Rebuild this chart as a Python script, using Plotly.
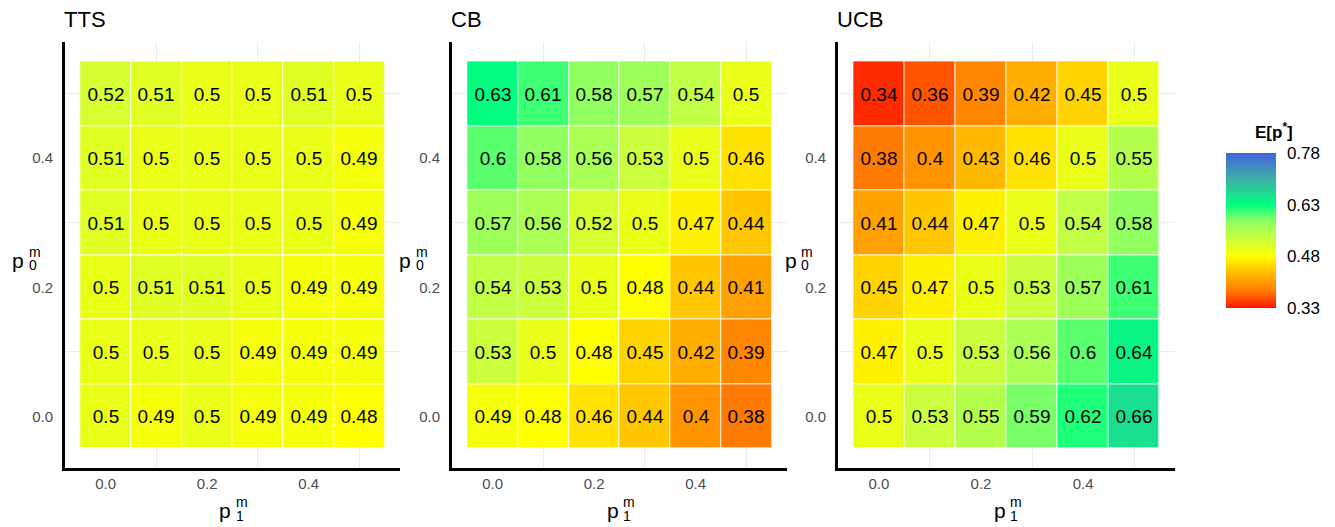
import plotly.graph_objects as go

# The page body has an 8px margin, so the figure is drawn 8px right/down.
OFF = 8
W, H = 1335 - OFF, 527 - OFF

p1_vals = [0.0, 0.1, 0.2, 0.3, 0.4, 0.5]
# rows listed from top (p0 = 0.5) to bottom (p0 = 0.0)
p0_vals = [0.5, 0.4, 0.3, 0.2, 0.1, 0.0]

tts = [
    [0.52, 0.51, 0.50, 0.50, 0.51, 0.50],
    [0.51, 0.50, 0.50, 0.50, 0.50, 0.49],
    [0.51, 0.50, 0.50, 0.50, 0.50, 0.49],
    [0.50, 0.51, 0.51, 0.50, 0.49, 0.49],
    [0.50, 0.50, 0.50, 0.49, 0.49, 0.49],
    [0.50, 0.49, 0.50, 0.49, 0.49, 0.48],
]
cb = [
    [0.63, 0.61, 0.58, 0.57, 0.54, 0.50],
    [0.60, 0.58, 0.56, 0.53, 0.50, 0.46],
    [0.57, 0.56, 0.52, 0.50, 0.47, 0.44],
    [0.54, 0.53, 0.50, 0.48, 0.44, 0.41],
    [0.53, 0.50, 0.48, 0.45, 0.42, 0.39],
    [0.49, 0.48, 0.46, 0.44, 0.40, 0.38],
]
ucb = [
    [0.34, 0.36, 0.39, 0.42, 0.45, 0.50],
    [0.38, 0.40, 0.43, 0.46, 0.50, 0.55],
    [0.41, 0.44, 0.47, 0.50, 0.54, 0.58],
    [0.45, 0.47, 0.50, 0.53, 0.57, 0.61],
    [0.47, 0.50, 0.53, 0.56, 0.60, 0.64],
    [0.50, 0.53, 0.55, 0.59, 0.62, 0.66],
]
panel_titles = ["TTS", "CB", "UCB"]
panels = [tts, cb, ucb]

z_min, z_max = 0.33, 0.78
cbar_ticks = [0.33, 0.48, 0.63, 0.78]
axis_ticks = [0.0, 0.2, 0.4]

colorscale = [
    [0.0, "#FF1500"],
    [0.1, "#FF7400"],
    [0.2, "#FFAE00"],
    [0.27, "#FFD500"],
    [1/3, "#FFFF00"],
    [0.45, "#C8FF40"],
    [0.56, "#90FF62"],
    [2/3, "#00FF80"],
    [0.83, "#3FB0A6"],
    [1.0, "#4262DA"],
]

FONT = "Liberation Sans, Arial, Helvetica, sans-serif"

def px(x):
    return (x - OFF) / W

def py(y):
    return 1 - (y - OFF) / H

# pixel extents (page coordinates) of each panel (left axis line .. right end)
panel_px = [(65, 400), (452, 787), (838, 1175)]
y_top, y_bot = 42, 468

fig = go.Figure()
annotations = []

def ann(text, x, y, xa, ya, size, **kw):
    annotations.append(dict(text=text, x=px(x), y=py(y), xref="paper", yref="paper",
                            xanchor=xa, yanchor=ya, showarrow=False,
                            font=dict(family=FONT, size=size, color="black"), **kw))

for i, (z, title) in enumerate(zip(panels, panel_titles)):
    idx = "" if i == 0 else str(i + 1)
    zr = z[::-1]
    yr = p0_vals[::-1]
    text = [[("%g" % v) for v in row] for row in zr]
    fig.add_trace(go.Heatmap(
        z=zr, x=p1_vals, y=yr, text=text, texttemplate="%{text}",
        textfont=dict(family=FONT, size=19, color="black"),
        colorscale=colorscale, zmin=z_min, zmax=z_max,
        xgap=1, ygap=1,
        showscale=(i == 0),
        colorbar=dict(
            x=px(1216), xanchor="left", y=py(230.5), yanchor="middle",
            len=175, lenmode="pixels", thickness=50, thicknessmode="pixels",
            outlinewidth=0, tickvals=cbar_ticks, ticktext=["%.2f" % t for t in cbar_ticks],
            ticks="outside", ticklen=8, tickcolor="rgba(0,0,0,0)",
            tickfont=dict(family=FONT, size=17, color="black"),
        ),
        xaxis="x" + idx, yaxis="y" + idx,
        hoverinfo="skip",
    ))
    x0, x1 = panel_px[i]
    axcommon = dict(
        range=[-0.08, 0.58], showline=True, linewidth=3, linecolor="black",
        tickvals=axis_ticks, ticktext=["%.1f" % t for t in axis_ticks],
        tickfont=dict(family=FONT, size=15, color="#4D4D4D"),
        showgrid=False, zeroline=False, ticks="",
        minor=dict(tickvals=[0.1, 0.3, 0.5], showgrid=True, gridcolor="#EBEBEB", gridwidth=1),
    )
    fig.update_layout(**{
        "xaxis" + idx: dict(domain=[px(x0), px(x1)], anchor="y" + idx,
                            ticklabelstandoff=0, **axcommon),
        "yaxis" + idx: dict(domain=[py(y_bot), py(y_top)], anchor="x" + idx,
                            ticklabelstandoff=6, **axcommon),
    })
    # panel title
    ann(title, x0 - 3, 19, "left", "middle", 22, height=22, valign="middle")
    # x-axis title p_1^m
    cx = (x0 + x1) / 2 + 1
    ann("p", cx, 510, "right", "middle", 21)
    ann("m", cx + 0.5, 502, "left", "middle", 14)
    ann("1", cx + 0.5, 516, "left", "middle", 14)
    # y-axis title p_0^m
    lx = x0 - 39
    ann("p", lx, 260, "right", "middle", 21)
    ann("m", lx + 0.5, 252, "left", "middle", 14)
    ann("0", lx + 0.5, 265, "left", "middle", 14)

# colorbar title
ann("<b>E[p<sup>*</sup>]</b>", 1253, 131, "left", "middle", 17)

fig.update_layout(
    width=W, height=H, margin=dict(l=0, r=0, t=0, b=0),
    paper_bgcolor="white", plot_bgcolor="white",
    annotations=annotations, showlegend=False,
    font=dict(family=FONT),
)

fig.write_html("out.html")
